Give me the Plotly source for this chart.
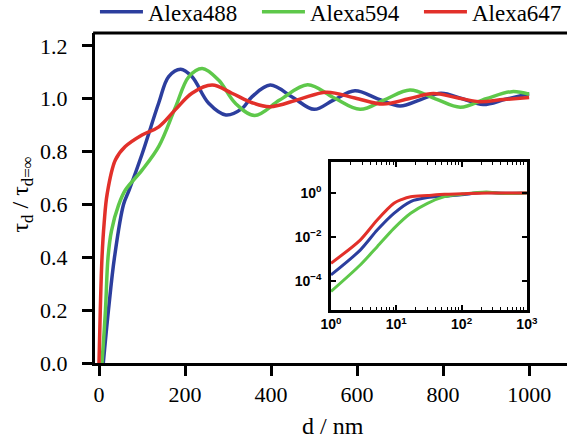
import plotly.graph_objects as go

# ---------------- data ----------------
series_names = ["Alexa488", "Alexa594", "Alexa647"]
series_colors = ["#2c3e9e", "#5ec84a", "#e2302a"]

# main panel: d / nm and tau_d / tau_inf
blue_d = [10, 22, 36, 57, 70, 100, 139, 162, 190, 216, 255, 295, 333, 356, 398, 450, 500, 545, 595, 648, 700, 748, 795, 845, 893, 945, 1000]
blue_v = [0.0, 0.2, 0.4, 0.6, 0.654, 0.79, 0.985, 1.084, 1.112, 1.084, 0.983, 0.939, 0.964, 1.008, 1.052, 1.006, 0.96, 0.995, 1.03, 1.0, 0.973, 0.997, 1.021, 1.0, 0.978, 0.998, 1.019]

green_d = [7, 15, 21, 29, 46, 61, 100, 139, 177, 209, 240, 278, 317, 362, 420, 485, 545, 607, 665, 723, 782, 840, 900, 960, 1000]
green_v = [0.0, 0.2, 0.4, 0.5, 0.6, 0.654, 0.73, 0.82, 0.965, 1.084, 1.115, 1.071, 0.983, 0.937, 0.995, 1.053, 1.005, 0.96, 0.997, 1.033, 1.0, 0.968, 1.0, 1.027, 1.017]

red_d = [0, 3, 7, 12, 19, 38, 61, 100, 139, 177, 216, 263, 309, 356, 398, 465, 529, 595, 660, 720, 777, 830, 884, 940, 1000]
red_v = [0.0, 0.2, 0.4, 0.53, 0.64, 0.768, 0.819, 0.863, 0.894, 0.958, 1.021, 1.052, 1.021, 0.985, 0.97, 0.998, 1.025, 1.003, 0.98, 1.0, 1.02, 1.005, 0.989, 0.997, 1.005]

# inset (log-log)
inset_blue_d = [1, 2.8, 5.1, 9.2, 16.6, 30, 55, 100, 200, 400, 1000]
inset_blue_v = [1.95e-4, 2.6e-3, 0.021, 0.12, 0.41, 0.62, 0.71, 0.82, 1.05, 0.98, 1.0]
inset_green_d = [1, 2.8, 5.1, 9.2, 16.6, 30, 55, 100, 240, 400, 1000]
inset_green_v = [3.5e-5, 5.5e-4, 3.7e-3, 0.025, 0.12, 0.34, 0.68, 0.88, 1.12, 0.96, 1.0]
inset_red_d = [1, 2.8, 5.1, 9.2, 12, 16.6, 30, 55, 100, 250, 1000]
inset_red_v = [6.6e-4, 7.4e-3, 0.060, 0.34, 0.50, 0.68, 0.77, 0.87, 0.92, 1.0, 1.0]

main_xticks = [0, 200, 400, 600, 800, 1000]
main_xtext = ["0", "200", "400", "600", "800", "1000"]
main_yticks = [0.0, 0.2, 0.4, 0.6, 0.8, 1.0, 1.2]
main_ytext = ["0.0", "0.2", "0.4", "0.6", "0.8", "1.0", "1.2"]
inset_xticks = [1, 10, 100, 1000]
inset_xtext = ["<b>10<sup>0</sup></b>", "<b>10<sup>1</sup></b>", "<b>10<sup>2</sup></b>", "<b>10<sup>3</sup></b>"]
inset_yticks = [1e-4, 1e-2, 1]
inset_ytext = ["<b>10<sup>−4</sup></b>", "<b>10<sup>−2</sup></b>", "<b>10<sup>0</sup></b>"]

# ---------------- figure ----------------
SERIF = "Liberation Serif"
SANS = "Liberation Sans"

fig = go.Figure()
main = [(blue_d, blue_v), (green_d, green_v), (red_d, red_v)]
inset = [(inset_blue_d, inset_blue_v), (inset_green_d, inset_green_v), (inset_red_d, inset_red_v)]

for (d, v), name, col in zip(main, series_names, series_colors):
    fig.add_trace(go.Scatter(x=d, y=v, mode="lines", name=name,
                             line=dict(color=col, width=3.5, shape="spline", smoothing=1.0),
                             xaxis="x", yaxis="y"))
for (d, v), name, col in zip(inset, series_names, series_colors):
    fig.add_trace(go.Scatter(x=d, y=v, mode="lines", name=name, showlegend=False,
                             line=dict(color=col, width=3, shape="spline", smoothing=0.8),
                             xaxis="x2", yaxis="y2"))

fig.update_layout(
    width=567, height=442,
    margin=dict(l=95, r=0, t=33, b=79, autoexpand=False),
    paper_bgcolor="white", plot_bgcolor="white",
    font=dict(family=SERIF, size=22, color="black"),
    showlegend=True,
    legend=dict(orientation="h", xref="paper", yref="paper",
                x=-0.0001, y=1.064, xanchor="left", yanchor="middle",
                font=dict(family=SERIF, size=23), bgcolor="rgba(0,0,0,0)",
                itemwidth=43, entrywidth=104, entrywidthmode="pixels", traceorder="normal"),
    xaxis=dict(domain=[0, 1], range=[-9.3, 1088], showgrid=False, zeroline=False,
               showline=True, linecolor="black", linewidth=3, automargin=False,
               ticks="outside", ticklen=10, tickwidth=3, tickcolor="black",
               tickmode="array", tickvals=main_xticks, ticktext=main_xtext,
               tickfont=dict(family=SERIF, size=22), ticklabelstandoff=0,
               anchor="y"),
    yaxis=dict(domain=[0, 1], range=[0, 1.249], showgrid=False, zeroline=False,
               showline=True, linecolor="black", linewidth=3, automargin=False,
               ticks="outside", ticklen=10, tickwidth=3, tickcolor="black",
               tickmode="array", tickvals=main_yticks, ticktext=main_ytext,
               tickfont=dict(family=SERIF, size=22),
               ticklabelstandoff=10, anchor="x"),
    xaxis2=dict(domain=[0.5, 0.915], type="log", range=[0, 3], showgrid=False, zeroline=False,
                showline=True, mirror="ticks", linecolor="black", linewidth=2.5, automargin=False,
                ticks="inside", ticklen=5, tickwidth=2, tickcolor="black",
                tickvals=inset_xticks, ticktext=inset_xtext,
                tickfont=dict(family=SANS, size=14),
                minor=dict(ticks="inside", ticklen=3, tickwidth=1.2, tickcolor="black", dtick="D1", showgrid=False),
                anchor="y2"),
    yaxis2=dict(domain=[0.161, 0.609], type="log", range=[-5.29, 1.40], showgrid=False, zeroline=False,
                showline=True, mirror="ticks", linecolor="black", linewidth=2.5, automargin=False,
                ticks="inside", ticklen=5, tickwidth=2, tickcolor="black",
                tickvals=inset_yticks, ticktext=inset_ytext,
                tickfont=dict(family=SANS, size=14), ticklabelstandoff=4,
                anchor="x2"),
    shapes=[dict(type="line", xref="paper", yref="paper", x0=-0.004, x1=1.0, y0=1, y1=1,
                 line=dict(color="black", width=3))],
    annotations=[
        dict(text="d / nm", xref="paper", yref="paper", x=0.505, y=-0.19,
             xanchor="center", yanchor="middle", showarrow=False,
             font=dict(family=SERIF, size=24)),
        dict(text="τ<sub>d</sub> / τ<sub>d=∞</sub>", xref="paper", yref="paper",
             x=-0.155, y=0.51, xanchor="center", yanchor="middle", textangle=-90,
             showarrow=False, font=dict(family=SERIF, size=24)),
    ],
)

fig.write_html("out.html", config={"displayModeBar": False},
               post_script="document.body.style.margin='0px';document.body.style.overflow='hidden';")
